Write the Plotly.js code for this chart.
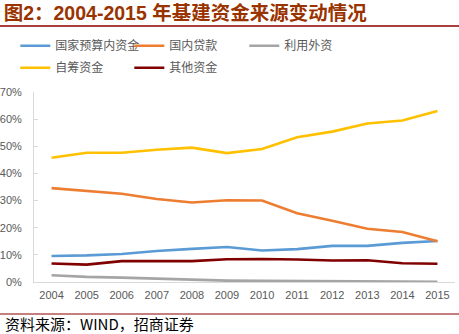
<!DOCTYPE html>
<html>
<head>
<meta charset="utf-8">
<script src="https://cdn.plot.ly/plotly-3.0.1.min.js"></script>
<style>html,body{margin:0;padding:0;background:#fff;}#chart{width:459px;height:334px;}</style>
</head>
<body>
<div id="chart"></div>
<script>
const years = ['2004','2005','2006','2007','2008','2009','2010','2011','2012','2013','2014','2015'];
const seriesNames = ['国家预算内资金','国内贷款','利用外资','自筹资金','其他资金'];
const budget   = [0.096,0.098,0.103,0.114,0.122,0.129,0.116,0.121,0.133,0.133,0.144,0.151];
const loans    = [0.346,0.336,0.325,0.306,0.293,0.301,0.300,0.253,0.226,0.196,0.184,0.150];
const foreign  = [0.025,0.019,0.016,0.012,0.009,0.005,0.004,0.004,0.003,0.003,0.002,0.001];
const selfRaised = [0.458,0.476,0.476,0.487,0.495,0.475,0.490,0.533,0.554,0.584,0.595,0.630];
const others   = [0.068,0.064,0.077,0.078,0.077,0.084,0.085,0.083,0.079,0.080,0.069,0.067];
const colors = ['#5B9BD5','#ED7D31','#A5A5A5','#FFC000','#800000'];
const values = [budget, loans, foreign, selfRaised, others];
const legendOf = ['legend','legend2','legend3','legend4','legend5'];

const font = "'Noto Sans CJK SC', 'Noto Sans', sans-serif";
const traces = values.map((v,i)=>({
  type:'scatter', mode:'lines', x: years, y: v, name: seriesNames[i],
  legend: legendOf[i],
  line:{color: colors[i], width: 2.6}, hoverinfo:'skip'
}));

const colX = [-0.0444, 0.2264, 0.4995];
const rowY = [(334-31.3-52)/190, (334-53.3-52)/190];
const legendBase = {orientation:'h', xanchor:'left', yanchor:'top', itemwidth:30,
    font:{family:font, size:12, color:'#595959'}, bgcolor:'rgba(0,0,0,0)'};
function lg(c, r){ return Object.assign({}, legendBase, {x: colX[c], y: rowY[r]}); }

const layout = {
  width:459, height:334,
  margin:{l:34, r:4, t:92, b:52},
  paper_bgcolor:'#fff', plot_bgcolor:'#fff',
  font:{family:font, size:11, color:'#595959'},
  showlegend:true,
  legend: lg(0,0), legend2: lg(1,0), legend3: lg(2,0), legend4: lg(0,1), legend5: lg(1,1),
  xaxis:{type:'category', range:[-0.5,11.5], showgrid:false, zeroline:false,
    showline:true, linecolor:'#D9D9D9', linewidth:1, ticks:'', ticklabelstandoff:3,
    tickfont:{family:"'Liberation Sans', Arial, sans-serif", size:11, color:'#595959'}, fixedrange:true},
  yaxis:{range:[0,0.7], dtick:0.1, tickformat:'.0%', showgrid:false, zeroline:false,
    showline:true, linecolor:'#D9D9D9', linewidth:1, ticks:'inside', ticklen:4, tickcolor:'#D9D9D9',
    ticklabelstandoff:9,
    tickfont:{family:"'Liberation Sans', Arial, sans-serif", size:11, color:'#595959'}, fixedrange:true},
  title:{text:'<b>图2：2004-2015 年基建资金来源变动情况</b>', x:0.008, xanchor:'left', y:0.962, yanchor:'middle',
    font:{family:"'Liberation Sans', 'Noto Sans CJK SC', sans-serif", size:19.5, color:'#993300'}},
  shapes:[
    {type:'line', xref:'paper', yref:'paper', x0:-0.1, x1:1.1, y0:(334-26-52)/190, y1:(334-26-52)/190, line:{color:'#8B0000', width:1.5}},
    {type:'line', xref:'paper', yref:'paper', x0:-0.1, x1:1.1, y0:(334-314-52)/190, y1:(334-314-52)/190, line:{color:'#8B0000', width:1.2}}
  ],
  annotations:[
    {text:'资料来源：WIND，招商证券', xref:'paper', yref:'paper', x:-0.074, xanchor:'left',
     y:(334-323-52)/190, yanchor:'middle', showarrow:false,
     font:{family:font, size:15, color:'#000'}}
  ]
};
Plotly.newPlot('chart', traces, layout, {displayModeBar:false, staticPlot:true});
</script>
</body>
</html>
